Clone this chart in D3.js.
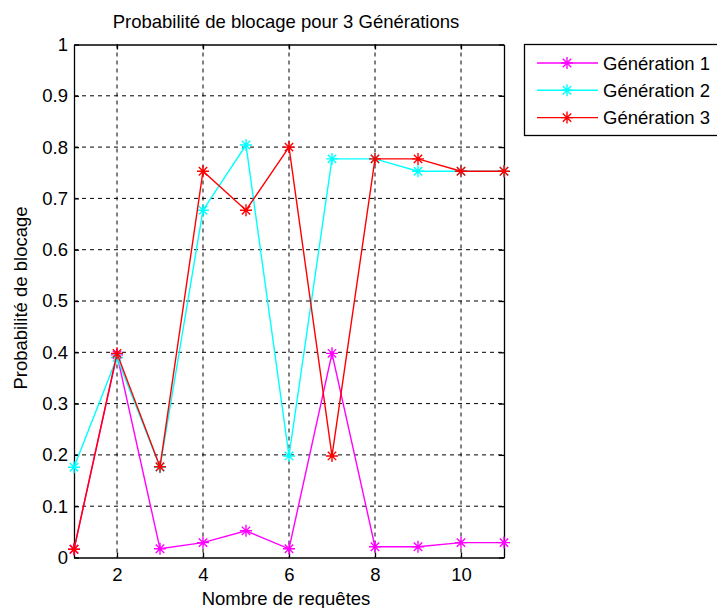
<!DOCTYPE html>
<html>
<head>
<meta charset="utf-8">
<script src="https://cdn.jsdelivr.net/npm/d3@7"></script>
<style>
  body { margin: 0; background: #fff; }
  svg { display: block; font-family: "Liberation Sans", Arial, sans-serif; }
</style>
</head>
<body>
<div id="chart"></div>
<script>
const requetes = [1, 2, 3, 4, 5, 6, 7, 8, 9, 10, 11];
const gen1 = [0.016, 0.395, 0.017, 0.029, 0.052, 0.017, 0.398, 0.021, 0.021, 0.029, 0.029];
const gen2 = [0.176, 0.39, 0.176, 0.677, 0.804, 0.198, 0.777, 0.777, 0.753, 0.753, 0.753];
const gen3 = [0.016, 0.398, 0.177, 0.753, 0.677, 0.8, 0.198, 0.777, 0.777, 0.753, 0.753];
const seriesNames = ["Génération 1", "Génération 2", "Génération 3"];
const xTicks = [2, 4, 6, 8, 10];
const yTicks = [0, 0.1, 0.2, 0.3, 0.4, 0.5, 0.6, 0.7, 0.8, 0.9, 1];

const W = 717, H = 608;
const margin = {top: 44.5, right: 213, bottom: 50.5, left: 74};
const width = W - margin.left - margin.right,
      height = H - margin.top - margin.bottom;
const fs = 18.5;

const series = [
  {name: seriesNames[0], values: gen1, color: "#ff00ff"},
  {name: seriesNames[1], values: gen2, color: "#00ffff"},
  {name: seriesNames[2], values: gen3, color: "#ff0000"}
];

const root = d3.select("#chart").append("svg")
  .attr("width", W).attr("height", H);
const svg = root.append("g")
  .attr("transform", `translate(${margin.left},${margin.top})`);

const x = d3.scaleLinear().domain([1, 11]).range([0, width]);
const y = d3.scaleLinear().domain([0, 1]).range([height, 0]);

// grid
svg.append("g").selectAll("line").data(xTicks).join("line")
  .attr("x1", d => x(d)).attr("x2", d => x(d))
  .attr("y1", 0).attr("y2", height)
  .attr("stroke", "#000").attr("stroke-width", 1)
  .attr("stroke-dasharray", "4,4");
svg.append("g").selectAll("line").data(yTicks.slice(1, -1)).join("line")
  .attr("x1", 0).attr("x2", width)
  .attr("y1", d => y(d)).attr("y2", d => y(d))
  .attr("stroke", "#000").attr("stroke-width", 1)
  .attr("stroke-dasharray", "4,4");

// axes (ticks inside, like matlab)
const fmt = d => d === 0 || d === 1 ? String(d) : d3.format(".1f")(d);
const axB = svg.append("g").attr("transform", `translate(0,${height})`)
  .call(d3.axisBottom(x).tickValues(xTicks).tickSizeInner(-5).tickSizeOuter(0).tickPadding(10));
const axL = svg.append("g")
  .call(d3.axisLeft(y).tickValues(yTicks).tickFormat(fmt).tickSizeInner(-5).tickSizeOuter(0).tickPadding(6));
const axT = svg.append("g")
  .call(d3.axisTop(x).tickValues(xTicks).tickSizeInner(-5).tickSizeOuter(0).tickFormat(""));
const axR = svg.append("g").attr("transform", `translate(${width},0)`)
  .call(d3.axisRight(y).tickValues(yTicks).tickSizeInner(-5).tickSizeOuter(0).tickFormat(""));
[axB, axL, axT, axR].forEach(a => {
  a.select(".domain").attr("stroke", "#000").attr("stroke-width", 1.3);
  a.selectAll(".tick line").attr("stroke", "#000").attr("stroke-width", 1.3);
  a.selectAll("text").attr("font-size", fs).attr("fill", "#000")
    .attr("font-family", "Liberation Sans, Arial, sans-serif");
});

// lines and asterisk markers
const line = d3.line().x((d, i) => x(requetes[i])).y(d => y(d));
const star = (g, color, r) => {
  g.append("path")
    .attr("d", `M${-r},0H${r}M0,${-r}V${r}M${-r * 0.7},${-r * 0.7}L${r * 0.7},${r * 0.7}M${-r * 0.7},${r * 0.7}L${r * 0.7},${-r * 0.7}`)
    .attr("stroke", color).attr("stroke-width", 1.4).attr("fill", "none");
};
series.forEach(s => {
  svg.append("path").datum(s.values)
    .attr("fill", "none").attr("stroke", s.color).attr("stroke-width", 1.4)
    .attr("d", line);
  svg.append("g").selectAll("g").data(s.values).join("g")
    .attr("transform", (d, i) => `translate(${x(requetes[i])},${y(d)})`)
    .each(function() { star(d3.select(this), s.color, 6); });
});

// titles
root.append("text").attr("x", 286).attr("y", 28)
  .attr("text-anchor", "middle").attr("font-size", fs).text("Probabilité de blocage pour 3 Générations");
root.append("text").attr("x", 286).attr("y", 605)
  .attr("text-anchor", "middle").attr("font-size", fs).text("Nombre de requêtes");
root.append("text")
  .attr("transform", `translate(27,298) rotate(-90)`)
  .attr("text-anchor", "middle").attr("font-size", fs).text("Probabilité de blocage");

// legend
const lg = root.append("g").attr("transform", "translate(524,44)");
lg.append("rect").attr("x", 0.5).attr("y", 0.5).attr("width", 200).attr("height", 91)
  .attr("fill", "#fff").attr("stroke", "#000").attr("stroke-width", 1.3);
series.forEach((s, i) => {
  const yy = 19 + i * 27.3;
  lg.append("line").attr("x1", 13).attr("x2", 74).attr("y1", yy).attr("y2", yy)
    .attr("stroke", s.color).attr("stroke-width", 1.4);
  const m = lg.append("g").attr("transform", `translate(43,${yy})`);
  star(m, s.color, 6);
  lg.append("text").attr("x", 79).attr("y", yy + 6.5).attr("font-size", fs).text(s.name);
});
</script>
</body>
</html>
